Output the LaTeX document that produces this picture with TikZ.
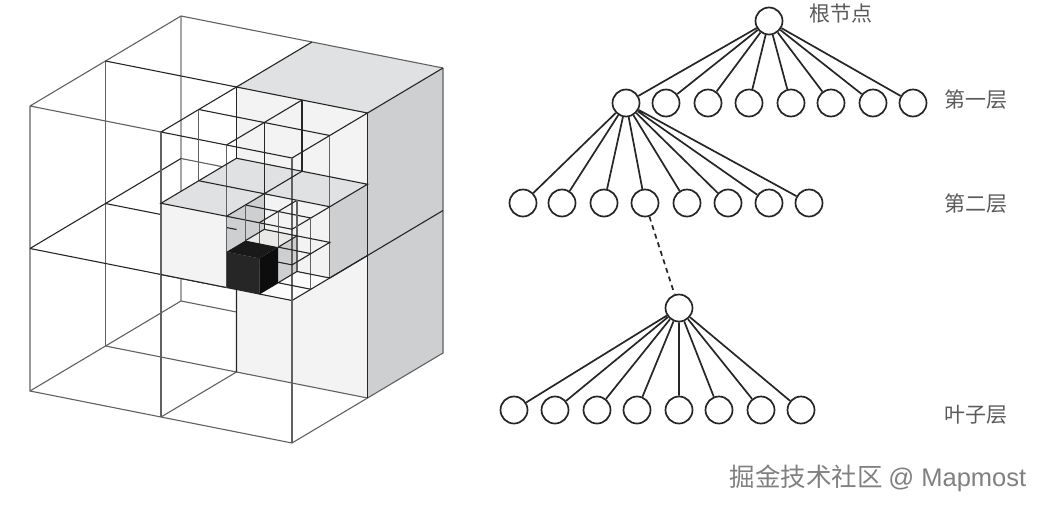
\documentclass[tikz,border=0pt]{standalone}
\usepackage{fontspec}
\setmainfont{Noto Sans CJK SC}
\newfontfamily\latinfont{Liberation Sans}
\definecolor{topc}{HTML}{E0E1E2}
\definecolor{sidec}{HTML}{CDCFD1}
\definecolor{wallc}{HTML}{F3F3F4}
\definecolor{floorc}{HTML}{FBFBFB}
\definecolor{stepc}{HTML}{E9E9E7}
\definecolor{labelc}{HTML}{5A5A5A}
\definecolor{markc}{HTML}{808080}
\tikzset{
  wireback/.style={draw=black!35, line width=1.1pt},
  wireout/.style={draw=black!62, line width=1.1pt},
  wirein/.style={draw=black!85, line width=1.1pt},
  treenode/.style={circle, draw=black!85, fill=white, line width=1.7pt, minimum size=27pt, inner sep=0pt},
  treelink/.style={draw=black!85, line width=1.7pt},
  levellabel/.style={text=labelc, font=\fontsize{21}{21}\selectfont, inner sep=0pt},
}

\begin{document}
\begin{tikzpicture}[x=1pt,y=-1pt]
\useasboundingbox (0,0) rectangle (1044,509);
\begin{scope}[shift={(30,106)},x={(262pt,-52pt)},y={(151pt,90pt)},z={(0pt,-285pt)}]
\draw[wireback] (0,1,0) -- (0,1,1);
\draw[wireout] (0,1,.5) -- (.5,1,.5) (0,1,1) -- (.5,1,1);
\fill[wallc] (.5,.5,0) -- (1,.5,0) -- (1,.5,1) -- (.5,.5,1) -- cycle;
\fill[sidec] (1,.5,0) -- (1,1,0) -- (1,1,1) -- (1,.5,1) -- cycle;
\fill[topc] (.5,.5,0) -- (.5,1,0) -- (1,1,0) -- (1,.5,0) -- cycle;
\fill[topc] (.5,0,.25) -- (.75,0,.25) -- (.75,.25,.25) -- (1,.25,.25) -- (1,.5,.25) -- (.5,.5,.25) -- cycle;
\fill[wallc] (.5,0,.25) -- (.75,0,.25) -- (.75,0,.5) -- (.5,0,.5) -- cycle;
\fill[sidec] (1,.25,.25) -- (1,.5,.25) -- (1,.5,.5) -- (1,.25,.5) -- cycle;
\fill[wallc] (.75,.25,.25) -- (1,.25,.25) -- (1,.25,.5) -- (.75,.25,.5) -- cycle;
\fill[sidec] (.75,0,.25) -- (.75,.25,.25) -- (.75,.25,.5) -- (.75,0,.5) -- cycle;
\fill[stepc] (.75,.125,.375) -- (.875,.125,.375) -- (.875,.25,.375) -- (.75,.25,.375) -- cycle;
\fill[sidec] (.875,.125,.375) -- (.875,.25,.375) -- (.875,.25,.5) -- (.875,.125,.5) -- cycle;
\fill[floorc] (.875,0,.5) -- (1,0,.5) -- (1,.25,.5) -- (.875,.25,.5) -- cycle;
\draw[wireout] (0,0,0) -- (.5,0,0) (0,0,0) -- (0,1,0) -- (1,1,0);
\draw[wireout] (0,0,0) -- (0,0,1) -- (1,0,1) -- (1,1,1) -- (1,1,0);
\draw[wireout] (0,0,1) -- (0,1,1);
\draw[wireout] (0,.5,0) -- (0,.5,1) (.5,0,.5) -- (.5,0,1) (1,0,.5) -- (1,0,1);
\draw[wireout] (0,.5,1) -- (1,.5,1) (.5,0,1) -- (.5,.5,1);
\draw[wirein] (0,.5,0) -- (.5,.5,0) (.5,.5,0) -- (.5,1,0);
\draw[wirein] (0,0,.5) -- (1,0,.5) -- (1,1,.5);
\draw[wirein] (0,0,.5) -- (0,1,.5) (0,.5,.5) -- (.5,.5,.5);
\fill[wallc] (.5,0,.25) -- (.75,0,.25) -- (.75,0,.5) -- (.5,0,.5) -- cycle;
\draw[wireout] (.5,0,.25) -- (.5,0,.5);
\draw[wirein] (.5,0,.5) -- (.75,0,.5);
\draw[wirein] (.5,0,0) -- (1,0,0) -- (1,.5,0) -- (.5,.5,0) -- cycle;
\draw[wirein] (.5,.25,0) -- (1,.25,0) (.75,0,0) -- (.75,.5,0);
\draw[wirein] (1,.5,0) -- (1,.5,1);
\draw[wirein] (1,1,0) -- (1,.5,0);
\draw[wirein] (.5,.5,0) -- (.5,.5,.25) (.75,.5,0) -- (.75,.5,.25);
\draw[wirein] (.75,.25,0) -- (.75,.25,.375);
\draw[wireout] (.5,0,0) -- (.5,0,.25) (.5,.25,0) -- (.5,.25,.25) (.75,0,0) -- (.75,0,.5);
\draw[wireout] (1,0,0) -- (1,0,.5) (1,.25,0) -- (1,.25,.5);
\draw[wirein] (.5,0,.25) -- (1,0,.25) -- (1,.5,.25) -- (.5,.5,.25) -- cycle;
\draw[wirein] (.5,.25,.25) -- (1,.25,.25) (.75,0,.25) -- (.75,.5,.25);
\draw[wirein] (.75,.125,.25) -- (1,.125,.25) (.875,0,.25) -- (.875,.25,.25);
\draw[wireout] (.75,.125,.25) -- (.75,.125,.375) (.875,0,.25) -- (.875,0,.375);
\draw[wireout] (.875,.125,.25) -- (.875,.125,.375) (.875,.25,.25) -- (.875,.25,.5) (1,.125,.25) -- (1,.125,.5);
\draw[wirein] (.75,.25,.375) -- (1,.25,.375) -- (1,0,.375) -- (.875,0,.375);
\draw[wirein] (.75,.125,.375) -- (.75,.25,.375) (.875,.125,.375) -- (1,.125,.375) (.875,.125,.375) -- (.875,.25,.375);
\draw[wirein] (.875,.125,.5) -- (1,.125,.5) (.875,0,.5) -- (.875,.25,.5) -- (1,.25,.5);
\draw[wirein] (1,.25,.5) -- (1,.5,.5) (.5,.5,.71) -- (.5,.5,1);
\fill[black!85] (.75,0,.375) -- (.875,0,.375) -- (.875,0,.5) -- (.75,0,.5) -- cycle;
\fill[black!95] (.875,0,.375) -- (.875,.125,.375) -- (.875,.125,.5) -- (.875,0,.5) -- cycle;
\fill[black!90] (.75,0,.375) -- (.75,.125,.375) -- (.875,.125,.375) -- (.875,0,.375) -- cycle;
\end{scope}
\node[treenode] (rootn) at (769,21) {};
\node[treenode] (firsta) at (626,103) {};
\node[treenode] (firstb) at (666,103) {};
\node[treenode] (firstc) at (708,103) {};
\node[treenode] (firstd) at (749,103) {};
\node[treenode] (firste) at (791,103) {};
\node[treenode] (firstf) at (831,103) {};
\node[treenode] (firstg) at (873,103) {};
\node[treenode] (firsth) at (913,103) {};
\node[treenode] (seconda) at (523,203) {};
\node[treenode] (secondb) at (562,203) {};
\node[treenode] (secondc) at (604,203) {};
\node[treenode] (secondd) at (645,203) {};
\node[treenode] (seconde) at (687,203) {};
\node[treenode] (secondf) at (728,203) {};
\node[treenode] (secondg) at (769,203) {};
\node[treenode] (secondh) at (809,203) {};
\node[treenode] (subroot) at (679,308) {};
\node[treenode] (leafa) at (514,410) {};
\node[treenode] (leafb) at (555,410) {};
\node[treenode] (leafc) at (597,410) {};
\node[treenode] (leafd) at (637,410) {};
\node[treenode] (leafe) at (679,410) {};
\node[treenode] (leaff) at (719,410) {};
\node[treenode] (leafg) at (761,410) {};
\node[treenode] (leafh) at (801,410) {};
\draw[treelink] (rootn) -- (firsta) (rootn) -- (firstb) (rootn) -- (firstc) (rootn) -- (firstd) (rootn) -- (firste) (rootn) -- (firstf) (rootn) -- (firstg) (rootn) -- (firsth);
\draw[treelink] (firsta) -- (seconda) (firsta) -- (secondb) (firsta) -- (secondc) (firsta) -- (secondd) (firsta) -- (seconde) (firsta) -- (secondf) (firsta) -- (secondg) (firsta) -- (secondh);
\draw[treelink] (subroot) -- (leafa) (subroot) -- (leafb) (subroot) -- (leafc) (subroot) -- (leafd) (subroot) -- (leafe) (subroot) -- (leaff) (subroot) -- (leafg) (subroot) -- (leafh);
\draw[treelink, dash pattern=on 5pt off 4pt] (secondd) -- (subroot);
\node[levellabel] (rootlabel) at (841,14) {根节点};
\node[levellabel] (firstlabel) at (976,100) {第一层};
\node[levellabel] (secondlabel) at (976,204) {第二层};
\node[levellabel] (leaflabel) at (976,415) {叶子层};
\node[text=markc, font=\fontsize{25.5}{25.5}\selectfont, inner sep=0pt] (marklabel) at (878,478) {掘金技术社区 {\latinfont @ Mapmost}};
\end{tikzpicture}
\end{document}
